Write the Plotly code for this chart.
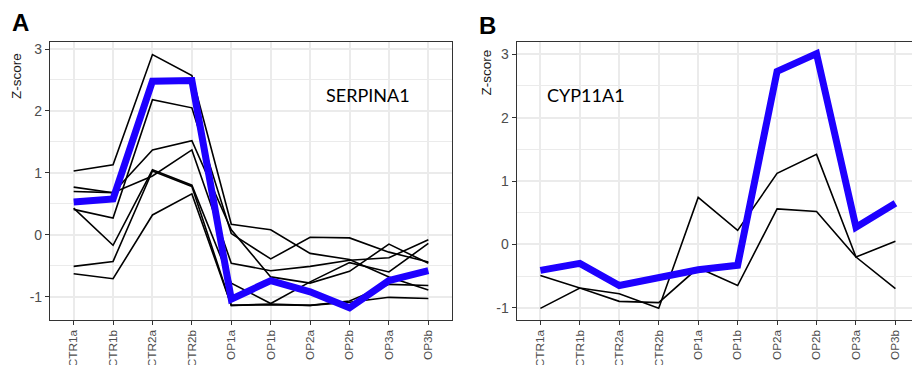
import plotly.graph_objects as go

categories = ["CTR1a", "CTR1b", "CTR2a", "CTR2b", "OP1a", "OP1b", "OP2a", "OP2b", "OP3a", "OP3b"]
y_ticks = [-1, 0, 1, 2, 3]
y_tick_labels = ["-1", "0", "1", "2", "3"]

# Panel A: SERPINA1 (highlighted) and co-expressed genes
serpina1 = [0.53, 0.58, 2.48, 2.49, -1.04, -0.74, -0.92, -1.18, -0.74, -0.58]
a_gene1 = [1.03, 1.13, 2.91, 2.57, 0.17, 0.08, -0.30, -0.40, -0.68, -0.89]
a_gene2 = [0.41, 0.27, 2.18, 2.05, 0.02, -0.39, -0.04, -0.05, -0.28, -0.44]
a_gene3 = [0.70, 0.68, 1.37, 1.52, 0.08, -0.68, -0.78, -0.59, -0.15, -0.46]
a_gene4 = [0.77, 0.68, 0.95, 1.37, -0.46, -0.58, -0.51, -0.41, -0.37, -0.08]
a_gene5 = [0.43, -0.17, 1.05, 0.80, -0.78, -1.11, -0.76, -0.45, -0.60, -0.14]
a_gene6 = [-0.51, -0.43, 1.03, 0.78, -1.14, -1.12, -1.14, -1.07, -0.80, -0.82]
a_gene7 = [-0.63, -0.71, 0.32, 0.66, -1.14, -1.13, -1.14, -1.09, -1.01, -1.03]

# Panel B: CYP11A1 (highlighted) and co-expressed genes
cyp11a1 = [-0.41, -0.30, -0.65, -0.52, -0.40, -0.33, 2.73, 3.01, 0.27, 0.65]
b_gene1 = [-0.49, -0.69, -0.78, -1.01, 0.74, 0.22, 1.12, 1.42, -0.20, 0.05]
b_gene2 = [-1.01, -0.69, -0.90, -0.92, -0.37, -0.65, 0.56, 0.52, -0.20, -0.70]

W, H = 912, 365
fig = go.Figure()

BLACK = "#000000"
BLUE = "#1e00ff"

for g in [a_gene1, a_gene2, a_gene3, a_gene4, a_gene5, a_gene6, a_gene7]:
    fig.add_trace(go.Scatter(x=categories, y=g, mode="lines",
                             line=dict(color=BLACK, width=1.6),
                             xaxis="x", yaxis="y", hoverinfo="skip"))
fig.add_trace(go.Scatter(x=categories, y=serpina1, mode="lines",
                         line=dict(color=BLUE, width=7),
                         xaxis="x", yaxis="y", hoverinfo="skip"))

for g in [b_gene1, b_gene2]:
    fig.add_trace(go.Scatter(x=categories, y=g, mode="lines",
                             line=dict(color=BLACK, width=1.6),
                             xaxis="x2", yaxis="y2", hoverinfo="skip"))
fig.add_trace(go.Scatter(x=categories, y=cyp11a1, mode="lines",
                         line=dict(color=BLUE, width=7),
                         xaxis="x2", yaxis="y2", hoverinfo="skip"))

xtick_font = dict(family="Liberation Sans, Arial, sans-serif", size=11.8, color="#4d4d4d")
ytick_font = dict(family="Liberation Sans, Arial, sans-serif", size=14, color="#4d4d4d")
grid_major = "#ebebeb"

def xaxis_cfg(domain, rng, anchor):
    return dict(domain=domain, anchor=anchor, type="category",
                categoryorder="array", categoryarray=categories,
                range=rng, tickangle=-90, tickfont=xtick_font,
                ticks="outside", ticklen=4, tickwidth=1.1, tickcolor="#333333",
                automargin=False,
                showgrid=True, gridcolor=grid_major, gridwidth=1.5,
                showline=True, linecolor="#333333", linewidth=1.2,
                zeroline=False, fixedrange=True)

def yaxis_cfg(domain, rng, anchor, mirror):
    return dict(domain=domain, anchor=anchor, range=rng, automargin=False,
                tickvals=y_ticks, ticktext=y_tick_labels, tickfont=ytick_font,
                ticks="outside", ticklen=4, tickwidth=1.1, tickcolor="#333333",
                showgrid=True, gridcolor=grid_major, gridwidth=1.5,
                minor=dict(dtick=0.5, tick0=0, showgrid=True, gridcolor=grid_major,
                           gridwidth=0.9, ticks=""),
                showline=True, linecolor="#333333", linewidth=1.2, mirror=mirror,
                zeroline=False, fixedrange=True)

ydom = [(H - 320) / H, (H - 42) / H]

fig.update_layout(
    width=W, height=H, autosize=False,
    margin=dict(l=0, r=0, t=0, b=0, pad=0, autoexpand=False),
    paper_bgcolor="white", plot_bgcolor="white",
    showlegend=False,
    xaxis=xaxis_cfg([50 / W, 452 / W], [-0.6, 9.6], "y") | dict(mirror=True),
    yaxis=yaxis_cfg(ydom, [-1.376, 3.113], "x", True),
    xaxis2=xaxis_cfg([516.7 / W, 1.0], [-0.6, 9.42], "y2") | dict(mirror=True),
    yaxis2=yaxis_cfg(ydom, [-1.194, 3.194], "x2", False),
)

ann_font = dict(family="Liberation Sans, Arial, sans-serif", size=13.5, color="#1a1a1a")
label_font = dict(family="Liberation Sans, Arial, sans-serif", size=24, color="black")
gene_font = dict(family="Lato, Open Sans, sans-serif", size=18, color="black")

def px(x, y):
    return x / W, 1 - y / H

annotations = []
for (x, y, t) in [(20.5, 23, "<b>A</b>"), (487.5, 25, "<b>B</b>")]:
    ax, ay = px(x, y)
    annotations.append(dict(x=ax, y=ay, xref="paper", yref="paper", text=t,
                            showarrow=False, font=label_font,
                            xanchor="center", yanchor="middle"))
for (x, y) in [(16, 76), (486.5, 72)]:
    ax, ay = px(x, y)
    annotations.append(dict(x=ax, y=ay, xref="paper", yref="paper", text="Z-score",
                            showarrow=False, font=ann_font, textangle=-90,
                            xanchor="center", yanchor="middle"))
for (x, y, t) in [(368, 95, "SERPINA1"), (586, 95, "CYP11A1")]:
    ax, ay = px(x, y)
    annotations.append(dict(x=ax, y=ay, xref="paper", yref="paper", text=t,
                            showarrow=False, font=gene_font,
                            xanchor="center", yanchor="middle"))
fig.update_layout(annotations=annotations)

fig.write_html(
    "out.html",
    config={"displayModeBar": False},
    post_script="document.body.style.margin='0';document.body.style.overflow='hidden';",
)
